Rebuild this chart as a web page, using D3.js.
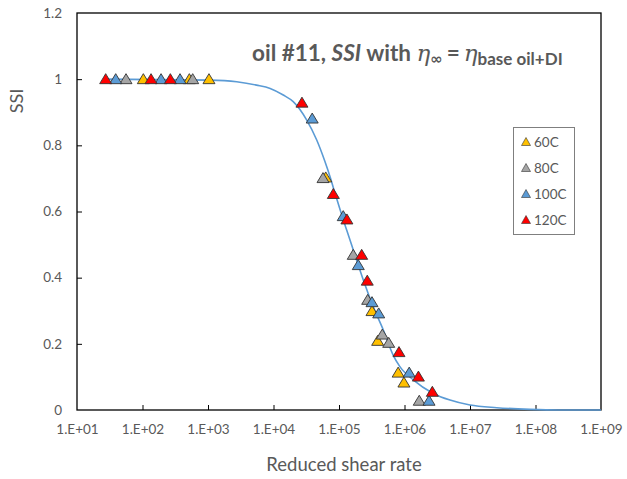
<!DOCTYPE html>
<html><head><meta charset="utf-8">
<script src="https://cdn.jsdelivr.net/npm/d3@7"></script>
<style>
html,body{margin:0;padding:0;background:#fff;}
svg{display:block;font-family:Lato,"Open Sans",sans-serif;}
</style></head>
<body><svg id="chart" width="627" height="479"></svg>
<script>
// ---- data ----
const seriesNames = ["60C", "80C", "100C", "120C"];
const seriesColors = ["#FFC000", "#A5A5A5", "#5B9BD5", "#FF0000"];
const rate60 = [103, 519, 1035, 62700, 319000, 389000, 800000, 980000];
const ssi60  = [1, 1, 1, 0.703, 0.299, 0.209, 0.113, 0.083];
const rate80 = [56, 584, 57000, 165000, 274000, 458000, 574000, 1680000];
const ssi80  = [1, 1, 0.701, 0.469, 0.333, 0.228, 0.203, 0.028];
const rate100 = [39, 192, 374, 39000, 116000, 197000, 319000, 404000, 1180000, 2370000];
const ssi100  = [1, 1, 1, 0.881, 0.586, 0.438, 0.326, 0.292, 0.113, 0.028];
const rate120 = [27.4, 135, 266, 27200, 82000, 132000, 222000, 270000, 824000, 1630000, 2660000];
const ssi120  = [1, 1, 1, 0.929, 0.653, 0.576, 0.469, 0.391, 0.175, 0.101, 0.055];
const fitRate = [25, 1070, 2740, 5500, 8900, 14100, 20000, 32000, 45700, 61000, 73000, 87000, 104000, 131000, 165000, 186000, 235000, 334000, 475000, 670000, 850000, 1360000, 2750000, 4950000, 10000000, 25600000, 82000000, 220000000, 1000000000];
const fitSSI  = [1, 0.997, 0.992, 0.982, 0.972, 0.952, 0.932, 0.877, 0.816, 0.751, 0.705, 0.655, 0.605, 0.544, 0.484, 0.453, 0.393, 0.312, 0.242, 0.166, 0.131, 0.091, 0.050, 0.030, 0.015, 0.007, 0.002, 0, 0];
const xTicks = [1e1, 1e2, 1e3, 1e4, 1e5, 1e6, 1e7, 1e8, 1e9];
const yTicks = [0, 0.2, 0.4, 0.6, 0.8, 1, 1.2];

const series = [
  {name: seriesNames[0], color: seriesColors[0], x: rate60, y: ssi60},
  {name: seriesNames[1], color: seriesColors[1], x: rate80, y: ssi80},
  {name: seriesNames[2], color: seriesColors[2], x: rate100, y: ssi100},
  {name: seriesNames[3], color: seriesColors[3], x: rate120, y: ssi120}
];

// ---- layout ----
const L = 77, R = 601, T = 13, B = 410;
const svg = d3.select("#chart");
const x = d3.scaleLog().domain([1e1, 1e9]).range([L, R]);
const y = d3.scaleLinear().domain([0, 1.2]).range([B, T]);
const textCol = "#595959";

// axes (ticks pointing inward)
const xAxis = d3.axisBottom(x).tickValues(xTicks).tickSize(-5).tickPadding(14)
  .tickFormat(d => "1.E+" + String(Math.round(Math.log10(d))).padStart(2, "0"));
const gx = svg.append("g").attr("transform", `translate(0,${B})`).call(xAxis);
const yAxis = d3.axisLeft(y).tickValues(yTicks).tickSize(-5).tickPadding(15)
  .tickFormat(d => d3.format("~g")(d));
const gy = svg.append("g").attr("transform", `translate(${L},0)`).call(yAxis);
[gx, gy].forEach(g => {
  g.select(".domain").remove();
  g.selectAll(".tick line").attr("stroke", "#000").attr("stroke-width", 1);
  g.selectAll(".tick text").attr("fill", textCol).style("font-size", "13.5px")
    .style("font-family", "Lato, sans-serif");
});
gx.selectAll(".tick line").filter((d, i) => i === 0 || i === xTicks.length - 1).remove();
gy.selectAll(".tick line").filter((d, i) => i === 0 || i === yTicks.length - 1).remove();

// frame
svg.append("rect").attr("x", L).attr("y", T).attr("width", R - L).attr("height", B - T)
  .attr("fill", "none").attr("stroke", "#000").attr("stroke-width", 1.3);

// fit curve
const fit = fitRate.map((r, i) => [r, fitSSI[i]]);
svg.append("path").datum(fit)
  .attr("fill", "none").attr("stroke", "#5B9BD5").attr("stroke-width", 1.6)
  .attr("d", d3.line().x(d => x(d[0])).y(d => y(d[1])).curve(d3.curveMonotoneX));

// markers
const tri = "M0,-5.5L6,4.5L-6,4.5Z";
series.forEach(s => {
  svg.append("g").selectAll("path").data(s.x.map((r, i) => [r, s.y[i]])).join("path")
    .attr("d", tri)
    .attr("transform", d => `translate(${x(d[0])},${y(d[1])})`)
    .attr("fill", s.color).attr("stroke", "#333").attr("stroke-width", 0.9);
});

// axis titles
svg.append("text").attr("x", (L + R) / 2 + 5).attr("y", 471).attr("text-anchor", "middle")
  .attr("fill", textCol).style("font-size", "18.5px").text("Reduced shear rate");
svg.append("text").attr("transform", "translate(23,101) rotate(-90)").attr("text-anchor", "middle")
  .attr("fill", textCol).style("font-size", "18px").text("SSI");

// chart title
const title = svg.append("text").attr("x", 252).attr("y", 61).attr("fill", textCol)
  .style("font-size", "22.5px").style("font-weight", "bold");
title.append("tspan").text("oil #11, ");
title.append("tspan").style("font-style", "italic").text("SSI");
title.append("tspan").text(" with ");
title.append("tspan").style("font-style", "italic").style("font-weight", "normal")
  .style("font-family", "'DejaVu Serif', serif").style("font-size", "23px").text("η");
title.append("tspan").attr("dy", 3).style("font-family", "'DejaVu Sans', sans-serif")
  .style("font-size", "15px").text("∞");
title.append("tspan").attr("dy", -3).attr("dx", 4).text("=");
title.append("tspan").attr("dx", 4).style("font-style", "italic").style("font-weight", "normal")
  .style("font-family", "'DejaVu Serif', serif").style("font-size", "23px").text("η");
title.append("tspan").attr("dy", 4).style("font-size", "17px").text("base oil+DI");

// legend
const lg = svg.append("g");
lg.append("rect").attr("x", 513.5).attr("y", 127.5).attr("width", 61).attr("height", 107)
  .attr("fill", "#fff").attr("stroke", "#7F7F7F").attr("stroke-width", 1);
const ly = d3.scalePoint().domain(seriesNames).range([142, 220]);
series.forEach(s => {
  lg.append("path").attr("d", "M0,-4.5L4.5,3.5L-4.5,3.5Z")
    .attr("transform", `translate(526,${ly(s.name)})`)
    .attr("fill", s.color).attr("stroke", "#333").attr("stroke-width", 0.6);
  lg.append("text").attr("x", 534).attr("y", ly(s.name) + 4.5).attr("fill", textCol)
    .style("font-size", "13.5px").text(s.name);
});
</script></body></html>
